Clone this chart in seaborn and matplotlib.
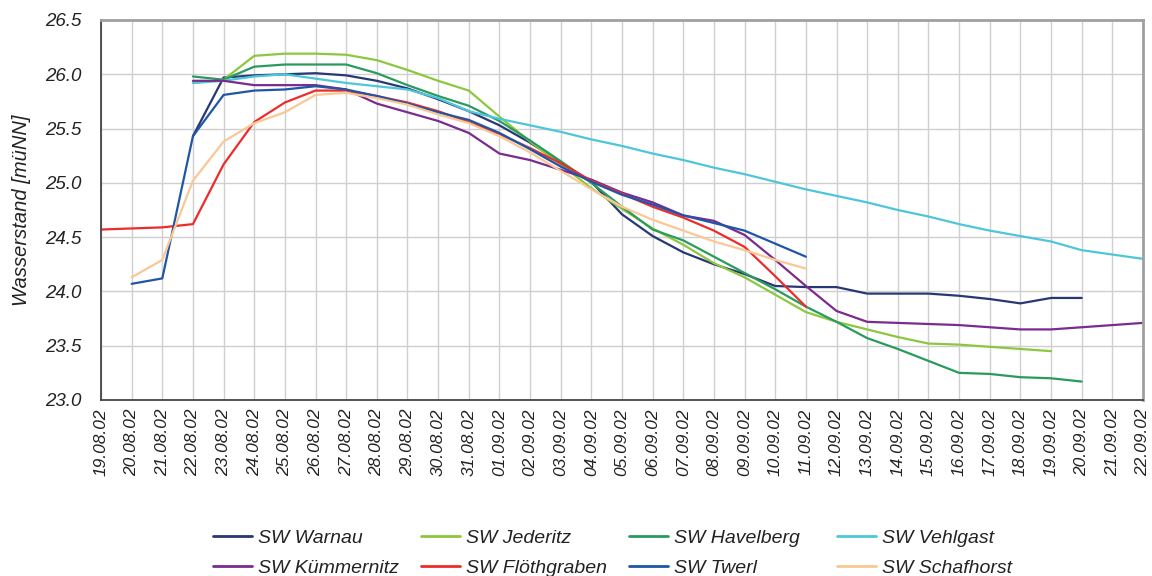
import numpy as np
import pandas as pd
import matplotlib
matplotlib.use("Agg")
import matplotlib.pyplot as plt
from matplotlib.lines import Line2D
import seaborn as sns

# Tagesdaten (x-Achse)
tage = [
    "19.08.02", "20.08.02", "21.08.02", "22.08.02", "23.08.02", "24.08.02",
    "25.08.02", "26.08.02", "27.08.02", "28.08.02", "29.08.02", "30.08.02",
    "31.08.02", "01.09.02", "02.09.02", "03.09.02", "04.09.02", "05.09.02",
    "06.09.02", "07.09.02", "08.09.02", "09.09.02", "10.09.02", "11.09.02",
    "12.09.02", "13.09.02", "14.09.02", "15.09.02", "16.09.02", "17.09.02",
    "18.09.02", "19.09.02", "20.09.02", "21.09.02", "22.09.02",
]

# Wasserstände [müNN] je Station, ab dem jeweiligen Beginn der Messreihe
warnau_start = "22.08.02"
warnau = [25.43, 25.97, 25.99, 26.00, 26.01, 25.99, 25.94, 25.87, 25.77, 25.66,
          25.53, 25.37, 25.19, 25.01, 24.71, 24.51, 24.36, 24.25, 24.16, 24.05,
          24.04, 24.04, 23.98, 23.98, 23.98, 23.96, 23.93, 23.89, 23.94, 23.94]

jederitz_start = "22.08.02"
jederitz = [25.92, 25.95, 26.17, 26.19, 26.19, 26.18, 26.13, 26.04, 25.94, 25.85,
            25.61, 25.38, 25.17, 24.95, 24.76, 24.58, 24.43, 24.26, 24.13, 23.97,
            23.81, 23.72, 23.65, 23.58, 23.52, 23.51, 23.49, 23.47, 23.45]

havelberg_start = "22.08.02"
havelberg = [25.98, 25.95, 26.07, 26.09, 26.09, 26.09, 26.01, 25.90, 25.80, 25.71,
             25.57, 25.39, 25.20, 25.00, 24.78, 24.57, 24.47, 24.32, 24.17, 24.02,
             23.86, 23.72, 23.57, 23.47, 23.36, 23.25, 23.24, 23.21, 23.20, 23.17]

vehlgast_start = "22.08.02"
vehlgast = [25.92, 25.94, 25.98, 26.00, 25.96, 25.92, 25.89, 25.86, 25.78, 25.66,
            25.59, 25.53, 25.47, 25.40, 25.34, 25.27, 25.21, 25.14, 25.08, 25.01,
            24.94, 24.88, 24.82, 24.75, 24.69, 24.62, 24.56, 24.51, 24.46, 24.38,
            24.34, 24.30]

kuemmernitz_start = "22.08.02"
kuemmernitz = [25.94, 25.94, 25.90, 25.90, 25.90, 25.86, 25.73, 25.65, 25.57, 25.46,
               25.27, 25.21, 25.12, 25.03, 24.91, 24.82, 24.70, 24.65, 24.52, 24.29,
               24.05, 23.82, 23.72, 23.71, 23.70, 23.69, 23.67, 23.65, 23.65, 23.67,
               23.69, 23.71]

floethgraben_start = "19.08.02"
floethgraben = [24.57, 24.58, 24.59, 24.62, 25.17, 25.56, 25.74, 25.85, 25.85, 25.80,
                25.74, 25.66, 25.56, 25.45, 25.32, 25.18, 25.02, 24.90, 24.78, 24.68,
                24.56, 24.41, 24.14, 23.86]

twerl_start = "20.08.02"
twerl = [24.07, 24.12, 25.43, 25.81, 25.85, 25.86, 25.89, 25.86, 25.80, 25.73,
         25.65, 25.58, 25.46, 25.31, 25.15, 25.01, 24.89, 24.80, 24.70, 24.63,
         24.56, 24.44, 24.32]

schafhorst_start = "20.08.02"
schafhorst = [24.13, 24.29, 25.02, 25.38, 25.55, 25.65, 25.81, 25.83, 25.78, 25.72,
              25.63, 25.55, 25.43, 25.28, 25.11, 24.94, 24.78, 24.66, 24.56, 24.46,
              24.38, 24.29, 24.21]

stationen = ["SW Warnau", "SW Jederitz", "SW Havelberg", "SW Vehlgast",
             "SW Kümmernitz", "SW Flöthgraben", "SW Twerl", "SW Schafhorst"]
farben = ["#283775", "#8DC63F", "#2A9B5E", "#4DC6DA",
          "#7A2B8F", "#EE2B2B", "#1F56A6", "#FAC795"]

reihen = [
    (warnau_start, warnau), (jederitz_start, jederitz),
    (havelberg_start, havelberg), (vehlgast_start, vehlgast),
    (kuemmernitz_start, kuemmernitz), (floethgraben_start, floethgraben),
    (twerl_start, twerl), (schafhorst_start, schafhorst),
]

zeilen = []
for name, (start, werte) in zip(stationen, reihen):
    i0 = tage.index(start)
    for k, w in enumerate(werte):
        zeilen.append({"station": name, "tag": i0 + k, "wert": w})
df = pd.DataFrame(zeilen)

sns.set_style("white")
plt.rcParams["font.family"] = ["Liberation Sans", "DejaVu Sans"]
plt.rcParams["font.style"] = "italic"

fig = plt.figure(figsize=(11.52, 5.76), dpi=100)
ax = fig.add_axes([101 / 1152, 1 - 400 / 576, 1042 / 1152, 380 / 576])

sns.lineplot(data=df, x="tag", y="wert", hue="station", hue_order=stationen,
             palette=farben, estimator=None, sort=True, linewidth=1.6,
             legend=False, ax=ax)

textfarbe = "#222222"
y_ticks = np.arange(23.0, 26.51, 0.5)

ax.set_xlim(0, len(tage) - 1)
ax.set_ylim(23.0, 26.5)
ax.set_xticks(range(len(tage)))
ax.set_xticklabels(tage, rotation=90, fontsize=12.5, fontstyle="italic", color=textfarbe)
ax.set_yticks(y_ticks)
ax.set_yticklabels([f"{v:.1f}" for v in y_ticks],
                   fontsize=13.5, fontstyle="italic", color=textfarbe)
ax.set_xlabel("")
ax.set_ylabel("Wasserstand [müNN]", fontsize=14.5, fontstyle="italic", color=textfarbe)
ax.yaxis.set_label_coords((31 - 101) / 1042, 0.5)

ax.grid(True, color="#CFCFCF", linewidth=1.0)
ax.set_axisbelow(True)
ax.tick_params(axis="both", direction="out", length=5, width=1.0, color="#444444")
ax.tick_params(axis="x", pad=1)
ax.tick_params(axis="y", pad=9)

for side in ("left", "bottom"):
    ax.spines[side].set_color("#444444")
    ax.spines[side].set_linewidth(1.3)
for side in ("top", "right"):
    ax.spines[side].set_color("#A0A0A0")
    ax.spines[side].set_linewidth(2.0)

# Legende: vier Spalten mit gleichem Abstand, je zwei Einträge
spalten_x = [213, 421, 629, 837]
for c, x0 in enumerate(spalten_x):
    idx = [c, c + 4]
    handles = [Line2D([0], [0], color=farben[i], linewidth=2.0) for i in idx]
    labels = [stationen[i] for i in idx]
    leg = fig.legend(handles, labels, loc="upper left",
                     bbox_to_anchor=(x0 / 1152, 1 - 529 / 576),
                     frameon=False, fontsize=14, handlelength=2.0,
                     handletextpad=0.3, labelspacing=0.65, borderpad=0,
                     borderaxespad=0)
    for t in leg.get_texts():
        t.set_fontstyle("italic")
        t.set_color(textfarbe)

fig.savefig("out.png", dpi=100)
